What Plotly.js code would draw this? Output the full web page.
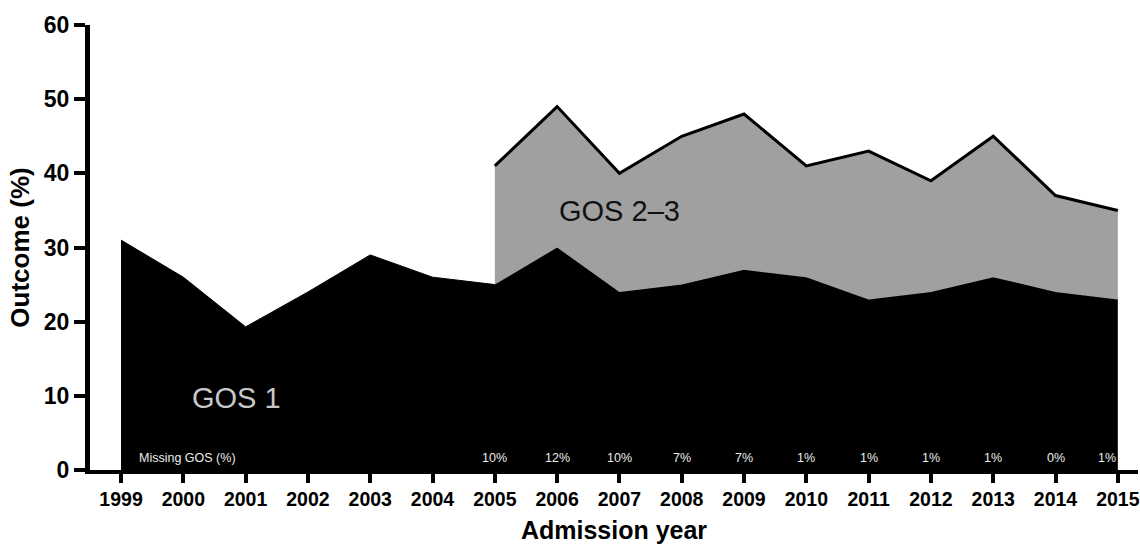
<!DOCTYPE html>
<html>
<head>
<meta charset="utf-8">
<script src="https://cdn.plot.ly/plotly-3.0.1.min.js"></script>
<style>html,body{margin:0;padding:0;background:#fff;}#chart{width:1140px;height:544px;}</style>
</head>
<body>
<div id="chart"></div>
<script>
const years = [1999,2000,2001,2002,2003,2004,2005,2006,2007,2008,2009,2010,2011,2012,2013,2014,2015];
const gos1 = [31,26,19.3,24,29,26,25,30,24,25,27,26,23,24,26,24,23];
const years23 = [2005,2006,2007,2008,2009,2010,2011,2012,2013,2014,2015];
const gos23 = [16,19,16,20,21,15,20,15,19,13,12];
const missingYears = [2005,2006,2007,2008,2009,2010,2011,2012,2013,2014,2015];
const missingLabels = ['10%','12%','10%','7%','7%','1%','1%','1%','1%','0%','1%'];
const yTicks = [0,10,20,30,40,50,60];

const base23 = years23.map(y => gos1[years.indexOf(y)]);
const total23 = base23.map((b, i) => b + gos23[i]);

const traces = [
  {x: years, y: gos1, type: 'scatter', mode: 'lines', fill: 'tozeroy',
   fillcolor: '#000000', line: {color: '#000000', width: 1}, hoverinfo: 'skip', showlegend: false},
  {x: years23, y: base23, type: 'scatter', mode: 'lines',
   line: {color: 'rgba(0,0,0,0)', width: 0}, hoverinfo: 'skip', showlegend: false},
  {x: years23, y: total23, type: 'scatter', mode: 'lines', fill: 'tonexty',
   fillcolor: '#a0a0a0', line: {color: '#000000', width: 3}, hoverinfo: 'skip', showlegend: false}
];

const smallFont = {family: 'Liberation Sans, Arial', size: 12.5, color: '#ececec'};
const ann = missingYears.map((yr, i) => ({
  x: (i === missingYears.length - 1) ? yr - 0.18 : yr, y: 1.6, xref: 'x', yref: 'y',
  text: missingLabels[i], showarrow: false, font: smallFont, xanchor: 'center', yanchor: 'middle'
}));
ann.push({x: 1999.25, y: 1.6, xref: 'x', yref: 'y', text: 'Missing GOS (%)', showarrow: false,
  font: smallFont, xanchor: 'left', yanchor: 'middle'});
ann.push({x: 2000.86, y: 9.7, xref: 'x', yref: 'y', text: 'GOS 1', showarrow: false,
  font: {family: 'Liberation Sans, Arial', size: 29, color: '#c8c8c8'}, xanchor: 'center', yanchor: 'middle'});
ann.push({x: 2007.0, y: 34.9, xref: 'x', yref: 'y', text: 'GOS 2–3', showarrow: false,
  font: {family: 'Liberation Sans, Arial', size: 29, color: '#111111'}, xanchor: 'center', yanchor: 'middle'});

const layout = {
  width: 1140, height: 544,
  margin: {l: 90, r: 2, t: 25, b: 74},
  paper_bgcolor: '#ffffff', plot_bgcolor: '#ffffff',
  showlegend: false,
  xaxis: {
    range: [1998.502, 2015.324], tickmode: 'array', tickvals: years, ticktext: years.map(String),
    showgrid: false, zeroline: false, showline: true, linecolor: '#000', linewidth: 4,
    ticks: 'outside', ticklen: 9, tickwidth: 4, tickcolor: '#000',
    tickfont: {family: 'Liberation Sans, Arial', size: 19.5, color: '#000', weight: 'bold'},
    title: {text: '<b>Admission year</b>', font: {family: 'Liberation Sans, Arial', size: 25, color: '#000'}, standoff: 14}
  },
  yaxis: {
    range: [0, 60], tickmode: 'array', tickvals: yTicks, ticktext: yTicks.map(String),
    showgrid: false, zeroline: false, showline: true, linecolor: '#000', linewidth: 5,
    ticks: 'outside', ticklen: 11, tickwidth: 4, tickcolor: '#000',
    tickfont: {family: 'Liberation Sans, Arial', size: 23, color: '#000', weight: 'bold'},
    title: {text: '<b>Outcome (%)</b>', font: {family: 'Liberation Sans, Arial', size: 26, color: '#000'}, standoff: 8}
  },
  annotations: ann
};

Plotly.newPlot('chart', traces, layout, {displayModeBar: false, staticPlot: true});
</script>
</body>
</html>
